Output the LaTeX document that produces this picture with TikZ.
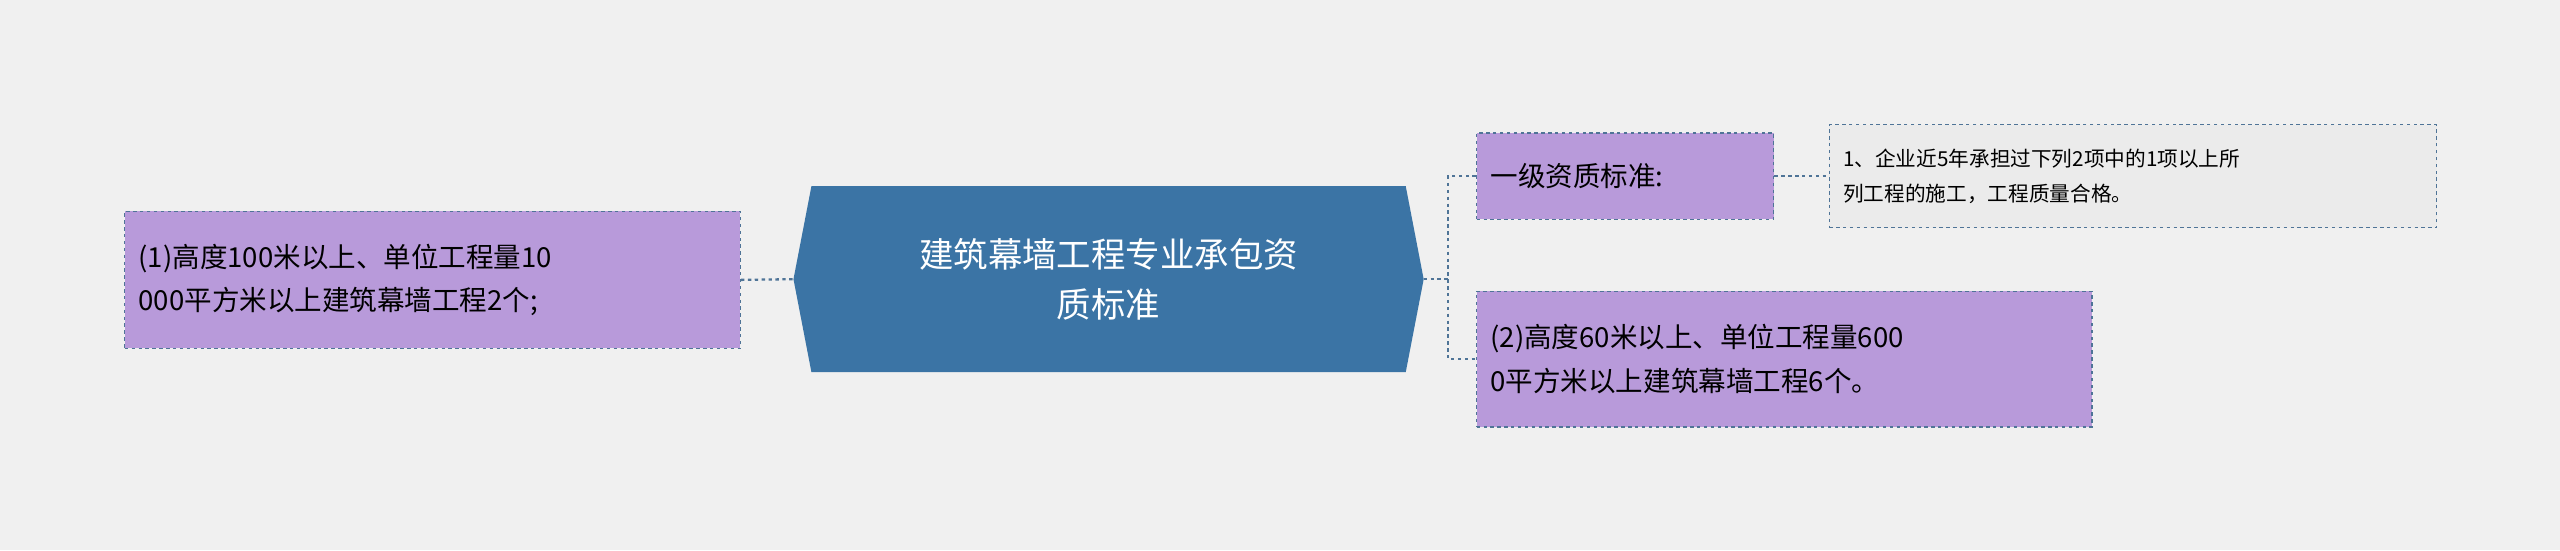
\documentclass[tikz,border=0pt]{standalone}
\usepackage{fontspec}
\setmainfont{Noto Sans CJK SC}
\definecolor{bgc}{HTML}{F0F0F0}
\definecolor{hexc}{HTML}{3B74A5}
\definecolor{lilac}{HTML}{B89ADA}
\definecolor{edgec}{HTML}{4F7497}
\definecolor{greyc}{HTML}{EBEBEB}
\tikzset{
  leafbox/.style={draw=edgec, dashed, line width=1.2pt, fill=lilac, inner sep=0pt, align=left},
  notebox/.style={draw=edgec, dashed, line width=1.2pt, fill=greyc, inner sep=0pt, align=left},
  link/.style={draw=edgec, dashed, line width=2pt}
}
\begin{document}
\begin{tikzpicture}[x=0.05cm, y=-0.05cm]

\fill[bgc] (0,0) rectangle (1568,337);
\useasboundingbox (0,0) rectangle (1568,337);

% central topic
\fill[hexc] (486,171) -- (497,114) -- (861,114) -- (872,171) -- (861,228) -- (497,228) -- cycle;
\coordinate (hexL) at (486,171);
\coordinate (hexR) at (872,171);
\node[text=white, align=center, font=\fontsize{30}{44}\selectfont] (root) at (679,171)
  {建筑幕墙工程专业承包资\\质标准};

% left branch
\node[leafbox, minimum width=377*0.05cm, minimum height=84*0.05cm, anchor=north west,
  text width=360*0.05cm, font=\fontsize{24}{38}\selectfont] (req1) at (76,129)
  {(1)高度100米以上、单位工程量10\\000平方米以上建筑幕墙工程2个;};
\draw[link] (req1.east) -- (hexL);

% right branch
\node[leafbox, minimum width=182*0.05cm, minimum height=53*0.05cm, anchor=north west,
  text width=165*0.05cm, font=\fontsize{24}{30}\selectfont] (level1) at (904,81)
  {一级资质标准:};
\node[notebox, minimum width=372*0.05cm, minimum height=63*0.05cm, anchor=north west,
  text width=355*0.05cm, font=\fontsize{18}{30}\selectfont] (note1) at (1120,76)
  {1、企业近5年承担过下列2项中的1项以上所\\列工程的施工，工程质量合格。};
\node[leafbox, minimum width=377*0.05cm, minimum height=83*0.05cm, anchor=north west,
  text width=360*0.05cm, font=\fontsize{24}{38}\selectfont] (req2) at (904,178)
  {(2)高度60米以上、单位工程量600\\0平方米以上建筑幕墙工程6个。};

\coordinate (fork) at (887,171);
\draw[link] (hexR) -- (fork);
\draw[link] (level1.west) -| (fork) |- (req2.west);
\draw[link] (level1.east) -- (note1.west |- level1.east);

\end{tikzpicture}
\end{document}
